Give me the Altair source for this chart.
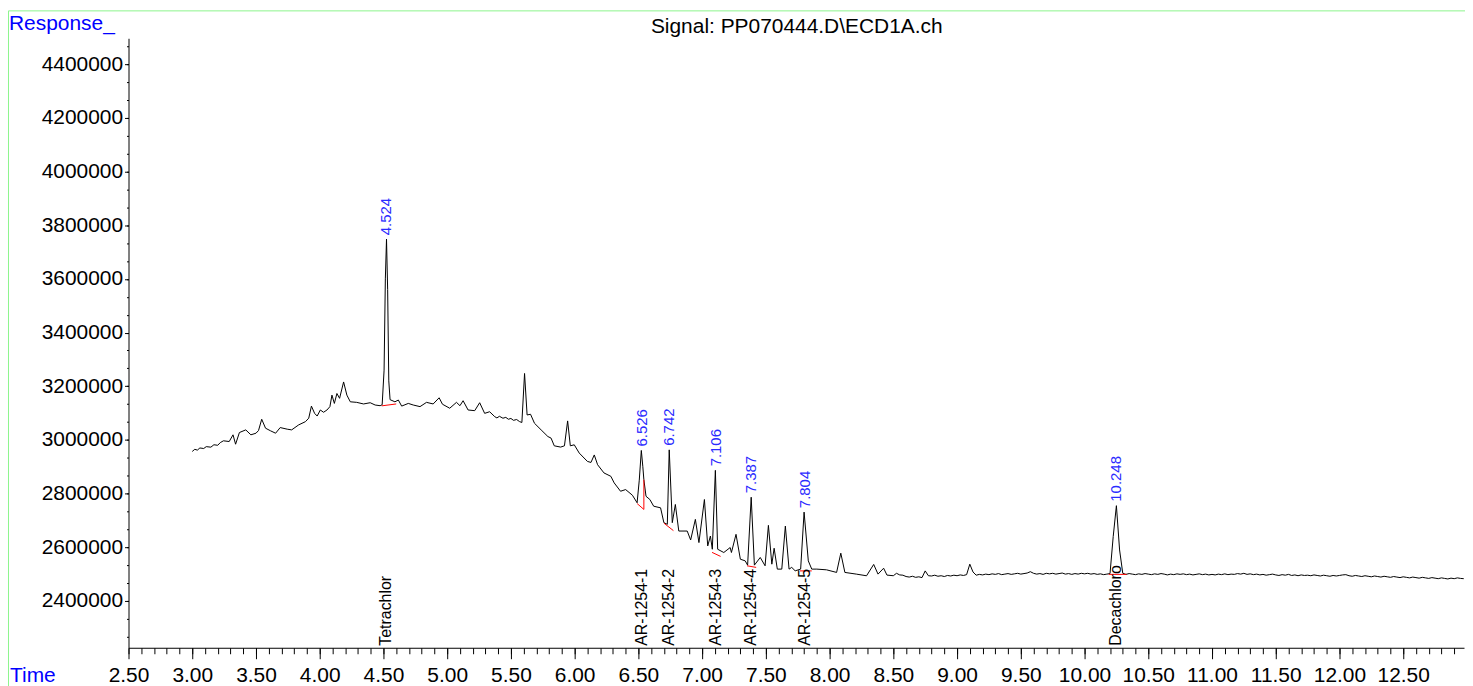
import altair as alt
import pandas as pd

FONT = "Liberation Sans"

# ---- chromatogram trace, part 1: irregular readings 3.0 - 8.45 min ----
time_a = [
    3.00, 3.02, 3.04, 3.06, 3.09, 3.11, 3.146, 3.17, 3.20, 3.22, 3.245, 3.29, 3.32, 3.34, 3.37,
    3.42, 3.46, 3.50, 3.52, 3.545, 3.575, 3.615, 3.654, 3.69, 3.745, 3.78, 3.835, 3.888, 3.914,
    3.935, 3.96, 3.98, 4.005, 4.03, 4.057, 4.08, 4.096, 4.115, 4.135, 4.156, 4.1875, 4.213, 4.24,
    4.29, 4.344, 4.396, 4.435, 4.474, 4.49, 4.505, 4.515, 4.524, 4.533, 4.542, 4.552, 4.59,
    4.617, 4.643, 4.695, 4.734, 4.787, 4.838, 4.89, 4.937, 4.963, 5.02, 5.073, 5.10, 5.125,
    5.164, 5.216, 5.255, 5.294, 5.333, 5.373, 5.39, 5.41, 5.4375, 5.46, 5.48, 5.50, 5.52, 5.545,
    5.568, 5.586, 5.607, 5.627, 5.654, 5.685, 5.737, 5.79, 5.815, 5.84, 5.89, 5.92, 5.945,
    5.966, 5.997, 6.036, 6.10, 6.128, 6.154, 6.18, 6.23, 6.284, 6.31, 6.36, 6.40, 6.453, 6.49,
    6.507, 6.523, 6.535, 6.543, 6.56, 6.59, 6.62, 6.674, 6.70, 6.727, 6.742, 6.766, 6.79, 6.817,
    6.883, 6.91, 6.947, 6.975, 7.018, 7.044, 7.065, 7.08, 7.104, 7.122, 7.17, 7.22, 7.23, 7.266,
    7.30, 7.338, 7.357, 7.385, 7.41, 7.456, 7.494, 7.52, 7.547, 7.565, 7.59, 7.625, 7.653, 7.682,
    7.703, 7.73, 7.773, 7.80, 7.833, 7.86, 7.90, 7.976, 8.055, 8.088, 8.12, 8.21, 8.29, 8.346,
    8.38, 8.424, 8.45,
]
response_a = [
    2957000, 2965000, 2962000, 2970000, 2968000, 2975000, 2973000, 2982000, 2980000, 2990000,
    2996700, 2994000, 3019000, 2984000, 3027500, 3037400, 3019000, 3025000, 3035000, 3077000,
    3043700, 3033700, 3025000, 3046000, 3040000, 3037400, 3056000, 3068000, 3081000, 3126000,
    3099000, 3089000, 3111500, 3103000, 3111500, 3124000, 3167000, 3136000, 3173000, 3155000,
    3216000, 3167000, 3142000, 3140000, 3134000, 3138600, 3130000, 3127500, 3131000, 3260000,
    3600000, 3748000, 3560000, 3220000, 3150000, 3142000, 3148600, 3126000, 3136000, 3130000,
    3124000, 3140000, 3134000, 3157000, 3133000, 3118000, 3140000, 3127500, 3146000, 3111500,
    3109000, 3138600, 3099000, 3105000, 3086700, 3082000, 3088000, 3080800, 3084000, 3077000,
    3080000, 3073000, 3076000, 3068200, 3065000, 3247600, 3093000, 3095600, 3062000, 3037400,
    3012600, 3006700, 2978000, 2973300, 2978000, 3070800, 2978000, 2981800, 2951000, 2920000,
    2916000, 2944000, 2907700, 2877000, 2864400, 2840000, 2808800, 2815000, 2794000, 2765800,
    2850000, 2960700, 2900000, 2852000, 2790000, 2778000, 2753000, 2747000, 2691700, 2685400,
    2963000, 2691700, 2759500, 2660500, 2660500, 2627200, 2704000, 2617500, 2778000, 2605000,
    2642000, 2592700, 2886600, 2592700, 2580500, 2599000, 2580500, 2648300, 2555600, 2549400,
    2533400, 2786500, 2533400, 2562000, 2531000, 2681700, 2537000, 2596400, 2518600, 2518600,
    2679000, 2518600, 2525000, 2512300, 2518600, 2731000, 2549400, 2518600, 2518600, 2516000,
    2506300, 2578000, 2506300, 2500000, 2493800, 2536000, 2500000, 2522000, 2496400,
]

# ---- chromatogram trace, part 2: sampled every 0.025 min from 8.500 to 12.975 ----
time_b = [round(8.5 + 0.025 * i, 3) for i in range(180)]
response_b = [
    2494000, 2503000, 2497000, 2496000, 2491000, 2489000, 2492000, 2488000, 2490000, 2487000,
    2512000, 2494000, 2493000, 2496000, 2492000, 2494000, 2491000, 2495000, 2493000, 2496000,
    2494000, 2497000, 2495000, 2498000, 2537000, 2508000, 2496000, 2499000, 2497000, 2500000,
    2498000, 2501000, 2499000, 2502000, 2498000, 2500000, 2502000, 2499000, 2501000, 2503000,
    2500000, 2502000, 2504000, 2509000, 2503000, 2500000, 2502000, 2499000, 2503000, 2501000,
    2503000, 2500000, 2502000, 2504000, 2500000, 2502000, 2499000, 2502000, 2500000, 2503000,
    2501000, 2503000, 2500000, 2502000, 2499000, 2501000, 2498000, 2500000, 2502000, 2640000,
    2755000, 2590000, 2503000, 2499000, 2502000, 2500000, 2498000, 2501000, 2499000, 2502000,
    2500000, 2498000, 2501000, 2499000, 2502000, 2500000, 2497000, 2500000, 2498000, 2501000,
    2499000, 2501000, 2498000, 2500000, 2497000, 2499000, 2501000, 2498000, 2500000, 2497000,
    2499000, 2497000, 2500000, 2498000, 2501000, 2498000, 2500000, 2499000, 2502000, 2500000,
    2503000, 2499000, 2501000, 2498000, 2500000, 2497000, 2499000, 2496000, 2498000, 2500000,
    2497000, 2495000, 2498000, 2496000, 2499000, 2495000, 2497000, 2494000, 2497000, 2495000,
    2496000, 2494000, 2497000, 2495000, 2493000, 2496000, 2494000, 2492000, 2495000, 2493000,
    2495000, 2497000, 2498000, 2494000, 2492000, 2495000, 2493000, 2491000, 2494000, 2492000,
    2490000, 2493000, 2491000, 2489000, 2492000, 2490000, 2488000, 2491000, 2489000, 2487000,
    2490000, 2488000, 2486000, 2489000, 2487000, 2485000, 2488000, 2486000, 2484000, 2487000,
    2485000, 2483000, 2486000, 2484000, 2482000, 2485000, 2483000, 2486000, 2484000, 2483000,
]

# ---- integrated peaks ----
peak_rt = [4.524, 6.526, 6.742, 7.106, 7.387, 7.804, 10.248]
peak_apex = [3748000, 2960700, 2963000, 2886600, 2786500, 2731000, 2755000]
peak_text = ["4.524", "6.526", "6.742", "7.106", "7.387", "7.804", "10.248"]
compound_names = ["Tetrachlor", "AR-1254-1", "AR-1254-2", "AR-1254-3",
                  "AR-1254-4", "AR-1254-5", "Decachloro"]

# ---- integration baselines (red) ----
base_seg = [0, 0, 1, 1, 1, 2, 2, 3, 3, 4, 4, 5, 5, 6, 6]
base_time = [4.487, 4.600, 6.490, 6.543, 6.543, 6.700, 6.775, 7.078, 7.145,
             7.352, 7.424, 7.768, 7.860, 10.190, 10.330]
base_resp = [3127000, 3134000, 2763000, 2741000, 2852000, 2690000, 2662000,
             2581000, 2566000, 2531000, 2525000, 2512000, 2512000, 2499000, 2499000]

# ---- axis ticks ----
x_major = [2.5, 3.0, 3.5, 4.0, 4.5, 5.0, 5.5, 6.0, 6.5, 7.0, 7.5, 8.0, 8.5, 9.0,
           9.5, 10.0, 10.5, 11.0, 11.5, 12.0, 12.5]
x_minor = [round(2.5 + 0.1 * i, 2) for i in range(105)]
y_major = [2400000, 2600000, 2800000, 3000000, 3200000, 3400000, 3600000,
           3800000, 4000000, 4200000, 4400000]
y_minor = [2400000 + 200000 * i / 3 for i in range(-2, 32)]

X_DOMAIN = [2.5, 12.977]
Y_DOMAIN = [2225600, 4496500]
W, H = 1341, 612

trace_df = pd.DataFrame({"t": time_a + time_b, "r": response_a + response_b})
base_df = pd.DataFrame({"t": base_time, "r": base_resp, "seg": base_seg,
                        "idx": list(range(len(base_time)))})
peak_df = pd.DataFrame({"t": peak_rt, "r": peak_apex, "label": peak_text,
                        "name": compound_names})

xs = alt.Scale(domain=X_DOMAIN, nice=False, zero=False)
ys = alt.Scale(domain=Y_DOMAIN, nice=False, zero=False)

main_x_axis = alt.Axis(values=x_major, format=".2f", title=None, orient="bottom",
                       labelFontSize=21, labelFont=FONT, labelColor="black",
                       tickSize=11, tickColor="black", domainColor="black",
                       labelPadding=5.5, grid=False, labelFlush=False, labelOverlap=False)
main_y_axis = alt.Axis(values=y_major, format="d", title=None, orient="left",
                       labelFontSize=21, labelFont=FONT, labelColor="black",
                       tickSize=4, tickColor="black", domainColor="black",
                       labelPadding=2, grid=False, labelOverlap=False)
minor_x_axis = alt.Axis(values=x_minor, labels=False, title=None, orient="bottom",
                        tickSize=6, tickColor="black", domain=False, grid=False)
minor_y_axis = alt.Axis(values=y_minor, labels=False, title=None, orient="left",
                        tickSize=2, tickColor="black", domain=False, grid=False)

trace = alt.Chart(trace_df).mark_line(color="black", strokeWidth=1, clip=True).encode(
    x=alt.X("t:Q", scale=xs, axis=main_x_axis),
    y=alt.Y("r:Q", scale=ys, axis=main_y_axis),
)

baselines = alt.Chart(base_df).mark_line(color="#ff0000", strokeWidth=1, clip=True).encode(
    x=alt.X("t:Q", scale=xs, axis=minor_x_axis),
    y=alt.Y("r:Q", scale=ys, axis=minor_y_axis),
    detail="seg:N",
    order="idx:Q",
)

peak_labels = alt.Chart(peak_df).mark_text(
    angle=270, align="left", baseline="middle", dx=4,
    fontSize=15, font=FONT, color="#2b2bff",
).encode(
    x=alt.X("t:Q", scale=xs, axis=None),
    y=alt.Y("r:Q", scale=ys, axis=None),
    text="label:N",
)

name_labels = alt.Chart(peak_df).mark_text(
    angle=270, align="left", baseline="middle", dx=2,
    fontSize=16, font=FONT, color="black",
).encode(
    x=alt.X("t:Q", scale=xs, axis=None),
    y=alt.value(H),
    text="name:N",
)

one = pd.DataFrame({"k": [0]})

title_txt = alt.Chart(one).mark_text(
    text="Signal: PP070444.D\\ECD1A.ch", fontSize=21, font=FONT, color="black",
    align="center", baseline="alphabetic",
).encode(x=alt.value(671), y=alt.value(-5))

resp_txt = alt.Chart(one).mark_text(
    text="Response_", fontSize=21, font=FONT, color="#0000ff",
    align="left", baseline="alphabetic",
).encode(x=alt.value(-120), y=alt.value(-8))

time_txt = alt.Chart(one).mark_text(
    text="Time", fontSize=21, font=FONT, color="#0000ff",
    align="left", baseline="alphabetic",
).encode(x=alt.value(-119), y=alt.value(646))

frame = alt.Chart(one).mark_rect(fill=None, stroke="#8cf58c", strokeWidth=1).encode(
    x=alt.value(-120.5), x2=alt.value(W + 20),
    y=alt.value(-27.5), y2=alt.value(H + 80),
)

chart = alt.layer(
    frame, trace, baselines, peak_labels, name_labels, title_txt, resp_txt, time_txt
).resolve_axis(
    x="independent", y="independent"
).properties(
    width=W, height=H,
    autosize=alt.AutoSizeParams(type="none"),
    padding={"left": 121, "top": 29, "right": 1, "bottom": 37},
    background="white",
).configure_view(stroke=None)

chart.save("out.html", embed_options={"renderer": "svg", "actions": False})
